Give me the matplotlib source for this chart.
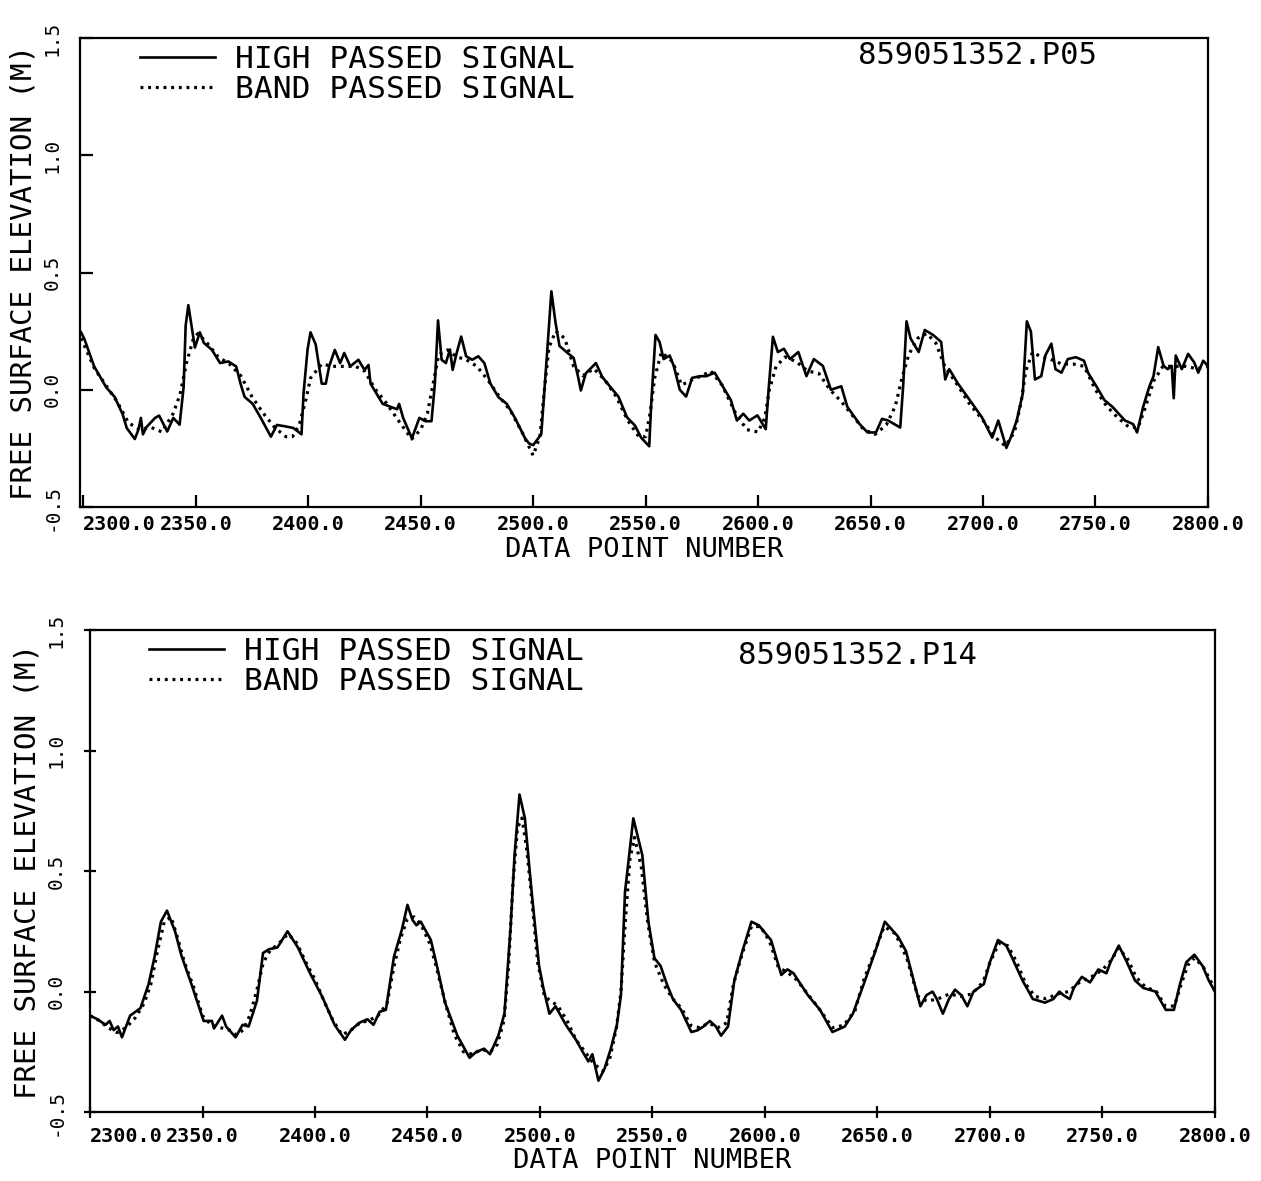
import matplotlib
matplotlib.use("Agg")
import matplotlib.pyplot as plt
from matplotlib.ticker import FixedLocator, FuncFormatter

plt.rcParams['font.family'] = ['DejaVu Sans Mono']

# ===================== 数据 =====================
# 上图 859051352.P05 高通信号
top_hp_x = [2299, 2300.5, 2304.8, 2310.2, 2313.9, 2317.5, 2319.3, 2321, 2322.9, 2324.5,
            2325.6, 2326.5, 2328, 2331.9, 2333.7, 2337.3, 2340, 2342.8, 2344.6, 2345.5,
            2346.7, 2348.2, 2349.6, 2351.8, 2353.6, 2357.2, 2360.8, 2364.5, 2368, 2369.9,
            2371.7, 2375.3, 2378.9, 2383.4, 2386.1, 2389.8, 2393.4, 2397, 2397.9, 2399.7,
            2401, 2403.3, 2406, 2407.8, 2409.3, 2411.8, 2414.2, 2416, 2418.7, 2422.3,
            2425, 2426.8, 2427.7, 2433.1, 2439.5, 2440.4, 2442.2, 2446.1, 2449.4, 2452.1,
            2454.8, 2456.3, 2457.7, 2459.3, 2461.2, 2463, 2464.2, 2466, 2468, 2470.2,
            2472.9, 2475.6, 2478.3, 2481, 2484.6, 2488.3, 2491.9, 2496.4, 2498.2, 2500,
            2503.6, 2506.3, 2508.1, 2509.9, 2511.7, 2515.3, 2518, 2519.8, 2521.2, 2523.4,
            2527.9, 2530.7, 2534.3, 2537.9, 2541.7, 2545.3, 2548, 2551.6, 2552.5, 2554.4,
            2556.2, 2558, 2560.7, 2562.5, 2565.2, 2568, 2570.7, 2574.3, 2577, 2580.7,
            2582.5, 2585.2, 2587.9, 2590.6, 2593.4, 2596.1, 2599.7, 2603.4, 2604.8, 2606.6,
            2608.8, 2611.5, 2614.2, 2617.9, 2621.5, 2624.8, 2628.8, 2632.4, 2637, 2639.7,
            2645.1, 2648.7, 2652.4, 2655.1, 2657.8, 2663.2, 2664.5, 2666, 2667.8, 2671.4,
            2674.1, 2677.8, 2681.4, 2683.2, 2685, 2688.7, 2694.1, 2699.5, 2704.1, 2706.8,
            2710.4, 2712.3, 2715, 2717.7, 2719.5, 2721.3, 2723.1, 2725.9, 2727.7, 2730.4,
            2732.2, 2734.9, 2737.7, 2741.3, 2744.9, 2746.7, 2750.4, 2754, 2757.6, 2763.1,
            2766.7, 2768.5, 2771.2, 2774, 2775.8, 2777.9, 2780.3, 2782.1, 2783.9, 2784.8,
            2785.7, 2788.4, 2791.2, 2793.9, 2795.7, 2797.9, 2800]
top_hp_y = [0.245, 0.216, 0.10, 0.01, -0.03, -0.105, -0.163, -0.185, -0.21, -0.17,
            -0.12, -0.19, -0.16, -0.12, -0.11, -0.178, -0.12, -0.149, 0.012, 0.274,
            0.361, 0.267, 0.18, 0.245, 0.20, 0.17, 0.114, 0.121, 0.099, 0.026,
            -0.03, -0.06, -0.12, -0.2, -0.15, -0.156, -0.163, -0.19, -0.017, 0.172,
            0.245, 0.194, 0.026, 0.026, 0.10, 0.17, 0.114, 0.157, 0.10, 0.128,
            0.085, 0.106, 0.026, -0.06, -0.083, -0.06, -0.12, -0.207, -0.12, -0.134,
            -0.134, 0.026, 0.296, 0.128, 0.114, 0.172, 0.085, 0.157, 0.227, 0.143,
            0.128, 0.143, 0.114, 0.026, -0.032, -0.06, -0.12, -0.207, -0.229, -0.236,
            -0.19, 0.172, 0.42, 0.289, 0.187, 0.157, 0.136, 0.063, -0.003, 0.07,
            0.114, 0.055, 0.012, -0.029, -0.117, -0.153, -0.204, -0.241, -0.058, 0.234,
            0.204, 0.131, 0.146, 0.102, 0.0, -0.029, 0.051, 0.058, 0.058, 0.073,
            0.044, 0.0, -0.044, -0.131, -0.102, -0.131, -0.109, -0.168, 0.015, 0.226,
            0.161, 0.175, 0.131, 0.161, 0.058, 0.131, 0.102, 0.0, 0.015, -0.073,
            -0.146, -0.182, -0.182, -0.124, -0.131, -0.161, 0.015, 0.292, 0.219, 0.161,
            0.255, 0.234, 0.204, 0.044, 0.088, 0.029, -0.044, -0.117, -0.204, -0.131,
            -0.248, -0.204, -0.131, -0.015, 0.292, 0.248, 0.044, 0.058, 0.146, 0.197,
            0.088, 0.073, 0.131, 0.139, 0.124, 0.073, 0.015, -0.044, -0.073, -0.131,
            -0.146, -0.182, -0.073, 0.015, 0.058, 0.182, 0.102, 0.088, 0.102, -0.036,
            0.146, 0.088, 0.153, 0.117, 0.073, 0.124, 0.102]

# 上图 带通信号
top_bp_x = [2299, 2305, 2310, 2315, 2320, 2325, 2330, 2335, 2340, 2343, 2346, 2349, 2351,
            2355, 2360, 2365, 2370, 2375, 2380, 2385, 2390, 2393, 2396, 2399, 2401, 2406,
            2411, 2416, 2421, 2425, 2430, 2435, 2440, 2446, 2450, 2453, 2456, 2458, 2462,
            2466, 2470, 2475, 2480, 2485, 2490, 2495, 2500, 2503, 2505, 2507, 2510, 2514,
            2518, 2522, 2527, 2532, 2537, 2542, 2547, 2550, 2552, 2554, 2557, 2562, 2566,
            2570, 2575, 2579, 2584, 2590, 2595, 2600, 2603, 2605, 2608, 2612, 2617, 2622,
            2627, 2632, 2637, 2642, 2647, 2652, 2657, 2661, 2664, 2667, 2671, 2675, 2679,
            2683, 2688, 2694, 2700, 2705, 2710, 2714, 2717, 2719, 2722, 2726, 2730, 2735,
            2740, 2745, 2750, 2755, 2760, 2765, 2769, 2772, 2776, 2780, 2785, 2790, 2795, 2800]
top_bp_y = [0.22, 0.09, 0.02, -0.05, -0.14, -0.17, -0.16, -0.18, -0.1, -0.02, 0.12, 0.22, 0.24,
            0.2, 0.14, 0.11, 0.06, -0.03, -0.1, -0.16, -0.2, -0.2, -0.15, -0.04, 0.05, 0.11,
            0.1, 0.1, 0.1, 0.08, 0.0, -0.06, -0.13, -0.21, -0.17, -0.1, 0.05, 0.15, 0.17,
            0.14, 0.13, 0.1, 0.04, -0.03, -0.09, -0.18, -0.28, -0.2, 0.0, 0.18, 0.25, 0.22,
            0.1, 0.06, 0.09, 0.04, -0.03, -0.13, -0.2, -0.2, -0.1, 0.05, 0.16, 0.12, 0.02,
            0.04, 0.06, 0.08, 0.02, -0.1, -0.17, -0.18, -0.12, 0.0, 0.1, 0.14, 0.12, 0.08,
            0.07, 0.0, -0.05, -0.11, -0.17, -0.19, -0.15, -0.07, 0.05, 0.15, 0.22, 0.24, 0.2,
            0.1, 0.03, -0.06, -0.13, -0.2, -0.24, -0.18, -0.05, 0.08, 0.16, 0.14, 0.13, 0.11,
            0.11, 0.1, 0.0, -0.07, -0.12, -0.16, -0.16, -0.08, 0.04, 0.1, 0.1, 0.1, 0.09, 0.1]

# 下图 859051352.P14 高通信号
bot_hp_x = [2300, 2303.3, 2306.9, 2308.7, 2310.5, 2312.4, 2314.2, 2317.8, 2322.4, 2326,
            2328.7, 2331.5, 2334.2, 2337.8, 2340.5, 2345.1, 2350.5, 2354.2, 2355.1, 2358.7,
            2360.5, 2364.7, 2367.8, 2370.5, 2374.2, 2376.9, 2379.6, 2383.3, 2387.8, 2392.4,
            2397.8, 2403.3, 2408.7, 2413.3, 2416, 2419.6, 2423.3, 2426, 2428.7, 2431.5,
            2435.1, 2438.7, 2441.1, 2443.3, 2445.1, 2447, 2451.5, 2454.2, 2457.8, 2463.3,
            2468.7, 2471.5, 2475.1, 2477.8, 2481.5, 2484.2, 2486.9, 2488.7, 2490.9, 2493.3,
            2496, 2499.6, 2501.5, 2504.2, 2506.9, 2511.5, 2516, 2519.6, 2521.5, 2523.3,
            2526, 2528.7, 2531.5, 2534.2, 2536, 2537.8, 2541.5, 2545.5, 2548.2, 2550.9,
            2553.6, 2556.4, 2559.1, 2562.7, 2567.3, 2570, 2572.7, 2575.5, 2578.2, 2580.5,
            2583.6, 2586.4, 2590, 2594, 2597.3, 2602.7, 2607.3, 2610, 2612.7, 2619.1,
            2624.5, 2630, 2635.5, 2639.1, 2644.5, 2649.1, 2653.3, 2659.1, 2662.7, 2669.1,
            2671.8, 2674.5, 2676.4, 2679.1, 2681.8, 2684.5, 2687.3, 2690, 2692.7, 2697.3,
            2700, 2703.6, 2707.3, 2710, 2714.5, 2719.1, 2724.5, 2728.2, 2730.9, 2732.7,
            2735.5, 2737.3, 2740.9, 2744.5, 2748.2, 2751.8, 2753.6, 2757.3, 2760.9, 2764.5,
            2768.2, 2773.6, 2778.2, 2781.8, 2784.5, 2787.3, 2790.9, 2794.5, 2797.3, 2800]
bot_hp_y = [-0.10, -0.115, -0.138, -0.122, -0.16, -0.145, -0.19, -0.10, -0.069, 0.03,
            0.145, 0.29, 0.336, 0.25, 0.153, 0.03, -0.122, -0.122, -0.153, -0.10,
            -0.145, -0.19, -0.138, -0.145, -0.038, 0.16, 0.176, 0.183, 0.25, 0.183,
            0.076, -0.023, -0.138, -0.2, -0.16, -0.13, -0.115, -0.138, -0.084, -0.076,
            0.145, 0.26, 0.36, 0.298, 0.275, 0.29, 0.214, 0.107, -0.046, -0.183,
            -0.275, -0.252, -0.237, -0.26, -0.183, -0.092, 0.26, 0.566, 0.818, 0.719,
            0.443, 0.107, 0.015, -0.092, -0.061, -0.138, -0.2, -0.26, -0.29, -0.26,
            -0.37, -0.32, -0.237, -0.138, -0.015, 0.413, 0.719, 0.566, 0.29, 0.138,
            0.107, 0.031, -0.031, -0.076, -0.168, -0.161, -0.145, -0.122, -0.145, -0.183,
            -0.145, 0.046, 0.168, 0.29, 0.275, 0.214, 0.069, 0.092, 0.076, -0.015,
            -0.076, -0.168, -0.145, -0.092, 0.046, 0.168, 0.29, 0.229, 0.168, -0.061,
            -0.015, 0.0, -0.031, -0.092, -0.031, 0.008, -0.015, -0.061, 0.0, 0.031,
            0.122, 0.214, 0.191, 0.138, 0.046, -0.031, -0.046, -0.031, 0.0, -0.015,
            -0.031, 0.015, 0.061, 0.038, 0.092, 0.076, 0.122, 0.191, 0.122, 0.046,
            0.015, 0.0, -0.076, -0.076, 0.031, 0.122, 0.153, 0.107, 0.046, 0.0]

# 下图 带通信号
bot_bp_x = [2300, 2304, 2308, 2312, 2316, 2320, 2324, 2327, 2330, 2333, 2336, 2339, 2342,
            2346, 2350, 2354, 2358, 2362, 2365, 2368, 2371, 2374, 2377, 2380, 2384, 2388,
            2392, 2396, 2400, 2404, 2408, 2412, 2416, 2420, 2424, 2428, 2432, 2435, 2438,
            2441, 2444, 2447, 2451, 2454, 2458, 2462, 2466, 2470, 2474, 2478, 2481, 2484,
            2486, 2488, 2490, 2492, 2494, 2496, 2499, 2502, 2505, 2508, 2512, 2516, 2520,
            2524, 2528, 2531, 2534, 2536, 2538, 2540, 2542, 2545, 2548, 2551, 2555, 2559,
            2563, 2567, 2571, 2575, 2579, 2583, 2586, 2590, 2594, 2598, 2602, 2606, 2610,
            2614, 2619, 2624, 2630, 2635, 2640, 2644, 2649, 2653, 2658, 2663, 2668, 2672,
            2677, 2682, 2687, 2692, 2697, 2700, 2704, 2708, 2712, 2716, 2720, 2725, 2730,
            2735, 2740, 2745, 2750, 2754, 2757, 2761, 2765, 2769, 2774, 2778, 2782, 2785,
            2788, 2791, 2795, 2800]
bot_bp_y = [-0.10, -0.12, -0.15, -0.17, -0.15, -0.11, -0.05, 0.03, 0.17, 0.29, 0.31, 0.22, 0.12,
            0.02, -0.1, -0.14, -0.15, -0.16, -0.18, -0.16, -0.1, 0.0, 0.12, 0.17, 0.2, 0.24,
            0.2, 0.12, 0.05, -0.04, -0.12, -0.18, -0.16, -0.13, -0.12, -0.1, -0.05, 0.1, 0.22,
            0.3, 0.31, 0.28, 0.2, 0.1, -0.05, -0.18, -0.25, -0.26, -0.24, -0.25, -0.22, -0.12,
            0.1, 0.45, 0.68, 0.72, 0.6, 0.42, 0.12, -0.02, -0.04, -0.06, -0.12, -0.2, -0.25,
            -0.3, -0.33, -0.28, -0.15, 0.0, 0.3, 0.55, 0.64, 0.52, 0.28, 0.12, 0.03, -0.03,
            -0.07, -0.14, -0.15, -0.13, -0.15, -0.13, 0.03, 0.16, 0.27, 0.27, 0.21, 0.1, 0.08,
            0.05, -0.01, -0.07, -0.15, -0.14, -0.08, 0.05, 0.17, 0.27, 0.24, 0.14, -0.02, -0.04,
            -0.03, -0.01, -0.02, -0.01, 0.04, 0.12, 0.2, 0.19, 0.12, 0.03, -0.02, -0.03, -0.01,
            0.0, 0.04, 0.06, 0.09, 0.13, 0.18, 0.14, 0.06, 0.02, 0.0, -0.06, -0.06, 0.03,
            0.11, 0.14, 0.1, 0.01]

x_ticks = [2300, 2350, 2400, 2450, 2500, 2550, 2600, 2650, 2700, 2750, 2800]
y_ticks = [-0.5, 0.0, 0.5, 1.0, 1.5]
labels = ['HIGH PASSED SIGNAL', 'BAND PASSED SIGNAL']


def draw_panel(ax, hp_x, hp_y, bp_x, bp_y, xmin, tag, tag_pos, leg_anchor, tick_dir):
    ax.plot(hp_x, hp_y, color='black', lw=1.9, label=labels[0])
    ax.plot(bp_x, bp_y, color='black', lw=2.3, ls=(0, (0.9, 1.5)), label=labels[1])
    ax.set_xlim(xmin, 2800)
    ax.set_ylim(-0.5, 1.5)
    ax.xaxis.set_major_locator(FixedLocator(x_ticks))
    ax.yaxis.set_major_locator(FixedLocator(y_ticks))
    ax.xaxis.set_major_formatter(FuncFormatter(lambda v, p: f'{v:.1f}'))
    ax.yaxis.set_major_formatter(FuncFormatter(lambda v, p: f'{v:.1f}'))
    for s in ax.spines.values():
        s.set_linewidth(1.6)
    ax.tick_params(axis='x', direction=tick_dir, length=9, width=1.6, pad=6, labelsize=14.5)
    ax.tick_params(axis='y', direction=tick_dir, length=9, width=1.6, pad=13, labelsize=14)
    for t in ax.get_xticklabels():
        t.set_fontweight('bold')
    ax.get_xticklabels()[0].set_horizontalalignment('left')
    for t in ax.get_yticklabels():
        t.set_rotation(90)
        t.set_verticalalignment('center')
    ax.set_xlabel('DATA POINT NUMBER', fontsize=19.5, labelpad=2)
    ax.set_ylabel('FREE SURFACE ELEVATION (M)', fontsize=21, labelpad=4)
    ax.text(tag_pos[0], tag_pos[1], tag, transform=ax.transAxes, fontsize=22,
            ha='center', va='center')
    ax.legend(loc='upper left', bbox_to_anchor=leg_anchor, frameon=False, fontsize=22.5,
              handlelength=2.4, handletextpad=0.65, labelspacing=0.02,
              borderpad=0, borderaxespad=0)


fig = plt.figure(figsize=(12.61, 11.81), dpi=100)
ax1 = fig.add_axes([0.0634, 0.5707, 0.8945, 0.397])
ax2 = fig.add_axes([0.0714, 0.0584, 0.892, 0.408])

draw_panel(ax1, top_hp_x, top_hp_y, top_bp_x, top_bp_y, 2298.5,
           '859051352.P05', (0.796, 0.964), (0.053, 0.985), 'in')
draw_panel(ax2, bot_hp_x, bot_hp_y, bot_bp_x, bot_bp_y, 2300,
           '859051352.P14', (0.682, 0.948), (0.052, 0.985), 'inout')

fig.savefig('out.png', dpi=100)
